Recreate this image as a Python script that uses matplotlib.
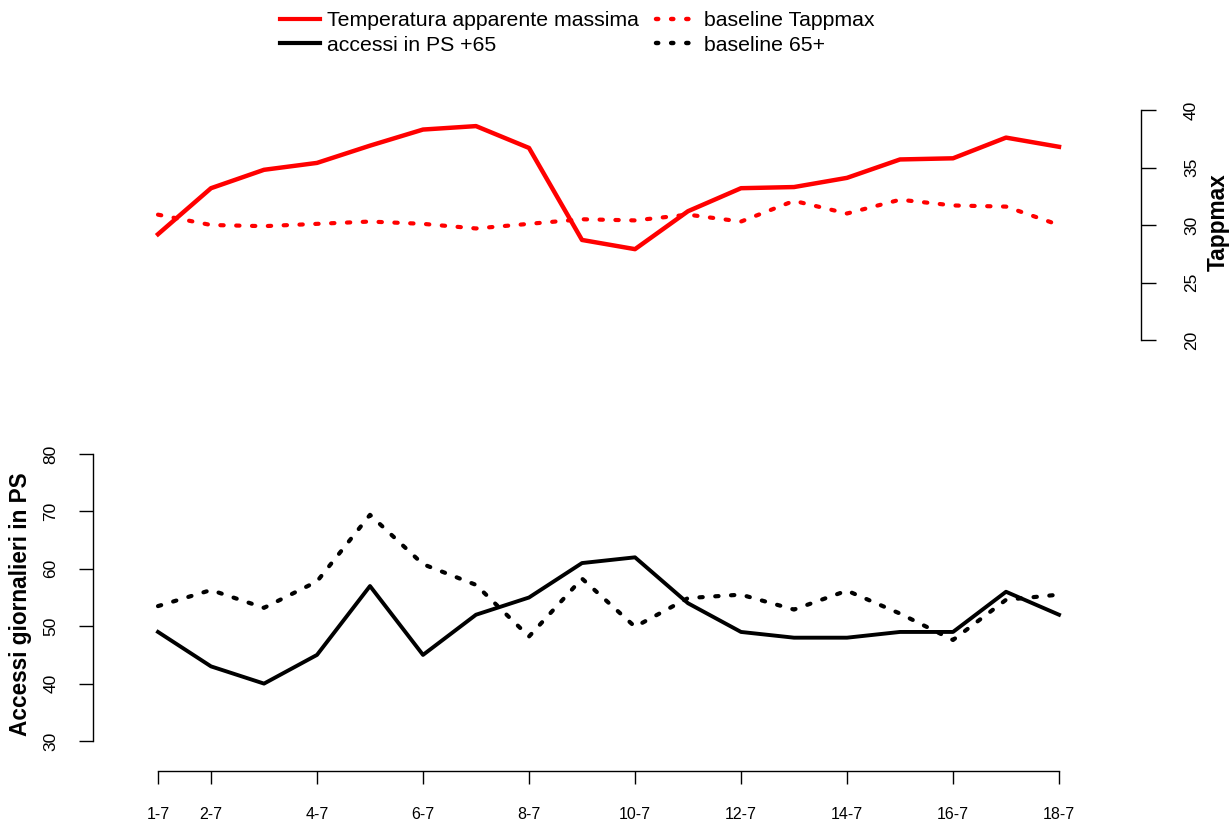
import matplotlib
matplotlib.use("Agg")
import matplotlib.pyplot as plt
from matplotlib.lines import Line2D

plt.rcParams['font.family'] = ['Liberation Sans', 'DejaVu Sans']

days = list(range(1, 19))
tick_days = [1, 2, 4, 6, 8, 10, 12, 14, 16, 18]
tick_labels = ['1-7', '2-7', '4-7', '6-7', '8-7', '10-7', '12-7', '14-7', '16-7', '18-7']

tappmax = [29.2, 33.2, 34.8, 35.4, 36.9, 38.3, 38.6, 36.7, 28.7, 27.9,
           31.2, 33.2, 33.3, 34.1, 35.7, 35.8, 37.6, 36.8]
baseline_tappmax = [30.9, 30.0, 29.9, 30.1, 30.3, 30.1, 29.7, 30.1, 30.5, 30.4,
                    30.9, 30.3, 32.1, 31.0, 32.2, 31.7, 31.6, 30.0]
accessi = [49, 43, 40, 45, 57, 45, 52, 55, 61, 62,
           54, 49, 48, 48, 49, 49, 56, 52]
baseline_65 = [53.5, 56.3, 53.2, 57.8, 69.4, 60.8, 57.2, 48.2, 58.3, 49.9,
               54.9, 55.5, 52.9, 56.2, 52.2, 47.6, 54.6, 55.5]

W, H = 1231, 825
fig = plt.figure(figsize=(W / 100, H / 100), dpi=100)
ax = fig.add_axes([93 / W, (H - 771) / H, (1141 - 93) / W, (771 - 80) / H])
ax2 = ax.twinx()

dot = dict(linestyle=(0, (0.8, 3.0)), dash_capstyle='round', lw=3.0)

ax.plot(days, accessi, color='black', lw=2.8, solid_joinstyle='round')
ax.plot(days, baseline_65, color='black', **dot)
ax2.plot(days, tappmax, color='#ff0000', lw=3.2, solid_joinstyle='round')
ax2.plot(days, baseline_tappmax, color='#ff0000', **dot)

ax.set_xlim(-0.2264, 19.547)
ax.set_ylim(24.774, 145.16)
ax2.set_ylim(-17.478, 42.609)

for s in ['top', 'right']:
    ax.spines[s].set_visible(False)
for s in ['top', 'left', 'bottom']:
    ax2.spines[s].set_visible(False)
ax.spines['left'].set_bounds(30, 80)
ax.spines['bottom'].set_bounds(1, 18)
ax2.spines['right'].set_bounds(20, 40)
for sp in [ax.spines['left'], ax.spines['bottom'], ax2.spines['right']]:
    sp.set_linewidth(1.0)

ax.set_xticks(tick_days)
ax.set_xticklabels(tick_labels)
ax.set_yticks([30, 40, 50, 60, 70, 80])
ax2.set_yticks([20, 25, 30, 35, 40])

ax.tick_params(axis='x', length=9, width=1, pad=17, labelsize=11.5)
ax.tick_params(axis='y', length=10, width=1, pad=15, labelsize=12.5, labelrotation=90)
ax2.tick_params(axis='y', length=11, width=1, pad=20, labelsize=12.5, labelrotation=90)
for lab in ax.get_yticklabels() + ax2.get_yticklabels():
    lab.set_verticalalignment('center')

fig.text(21 / W, 1 - 604 / H, 'Accessi giornalieri in PS', rotation=90,
         fontsize=16.3, fontweight='bold', ha='center', va='center')
fig.text(1218 / W, 1 - 222 / H, 'Tappmax', rotation=90,
         fontsize=16.3, fontweight='bold', ha='center', va='center')

legdot = dict(linestyle=(0, (0.5, 2.9)), dash_capstyle='round', lw=3.2)
handles = [
    Line2D([], [], color='#ff0000', lw=3),
    Line2D([], [], color='black', lw=3),
    Line2D([], [], color='#ff0000', **legdot),
    Line2D([], [], color='black', **legdot),
]
labels = ['Temperatura apparente massima', 'accessi in PS +65',
          'baseline Tappmax', 'baseline 65+']
fig.legend(handles, labels, ncol=2, loc='upper left',
           bbox_to_anchor=(280 / W, 1 - 11 / H), frameon=False,
           fontsize=15.3, handlelength=1.88, handletextpad=0.35,
           columnspacing=0.8, labelspacing=0.26, borderpad=0, borderaxespad=0)

fig.savefig('out.png', dpi=100)
